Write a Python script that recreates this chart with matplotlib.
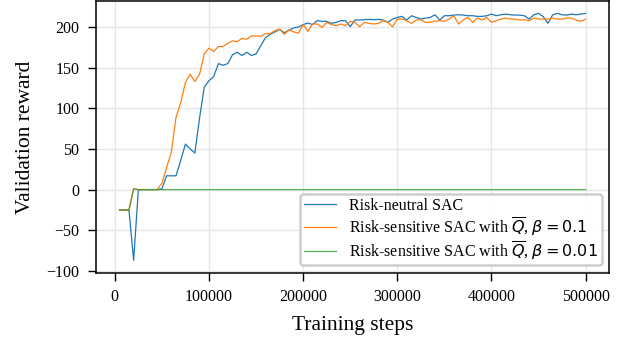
import numpy as np
import matplotlib
matplotlib.use("Agg")
import matplotlib.pyplot as plt

plt.rcParams['font.family'] = ['Liberation Serif', 'DejaVu Serif']

steps = np.arange(5000, 500001, 5000)

neutral = [
    -25, -25, -25, -87, 0, 0, 0, 0, 0, 1,
    17, 17, 17, 36, 56, 50, 45, 88, 126, 134,
    139, 155, 153, 155, 166, 169, 165, 169, 165, 167,
    177, 187, 191, 194, 197, 193, 196, 199, 200, 203,
    205, 203, 208, 207, 207, 204.5, 205.7, 207.8, 207.8, 200.4,
    208.6, 208.6, 209, 209.4, 209, 209.4, 208.6, 205.7, 209.8, 211.8,
    213.1, 208.6, 213.9, 211.8, 209.8, 211, 211.8, 215.1, 208.6, 213.9,
    213.9, 214.7, 215.1, 214.7, 213.9, 213.9, 213.1, 213.1, 213.9, 215.9,
    213.9, 215.1, 215.9, 215.1, 214.7, 214.7, 213.9, 209.8, 215.1, 216.8,
    212.7, 204.5, 215.1, 216.8, 215.1, 214.7, 215.9, 215.1, 215.9, 216.8,
]

sensitive_01 = [
    -25, -25, -25, 1, 0, 0, 0, 0, 0, 8,
    27, 46, 89, 107, 132, 142, 133, 142, 167, 174,
    170, 176, 176, 180, 183, 182, 186, 185, 189, 189,
    188.5, 192, 192, 195.5, 197.5, 191, 196.6, 194, 192.5, 203,
    194.6, 203.8, 203.8, 199.5, 205.7, 203, 201.6, 203.7, 201.6, 207,
    205.7, 200.4, 205.7, 204.5, 203.7, 204.5, 207.8, 205.7, 200.4, 209.8,
    209.8, 207.8, 204.5, 208.6, 209, 205.7, 205.7, 207, 207.8, 207,
    209.8, 213.9, 203.7, 208.6, 211.8, 205.7, 211, 208.6, 211.8, 205.7,
    207.8, 209.8, 211, 209.8, 209.8, 208.6, 209, 207.8, 211, 209.8,
    209.8, 209.8, 211, 209.8, 209.8, 211, 211, 208.6, 207, 209.8,
]

sensitive_001 = [-25, -25, -25, 1] + [0] * 96

labels = [
    'Risk-neutral SAC',
    r'Risk-sensitive SAC with $\overline{Q}$, $\beta = 0.1$',
    r'Risk-sensitive SAC with $\overline{Q}$, $\beta = 0.01$',
]

fig, ax = plt.subplots(figsize=(6.33, 3.43), dpi=100)
ax.plot(steps, neutral, color='#1f77b4', lw=0.9, label=labels[0])
ax.plot(steps, sensitive_01, color='#ff7f0e', lw=0.9, label=labels[1])
ax.plot(steps, sensitive_001, color='#2ca02c', lw=0.9, alpha=0.8, label=labels[2])

ax.grid(True, color='#e6e6e6', lw=1)
ax.set_axisbelow(True)
for s in ax.spines.values():
    s.set_linewidth(1.1)
ax.tick_params(direction='out', length=6, width=1, pad=6, labelsize=11.5)
ax.set_xticks([0, 100000, 200000, 300000, 400000, 500000])
ax.set_yticks([-100, -50, 0, 50, 100, 150, 200])
ax.set_xlabel('Training steps', fontsize=15.5, labelpad=8)
ax.set_ylabel('Validation reward', fontsize=15.5, labelpad=8)

leg = ax.legend(loc='lower right', fontsize=11.5, framealpha=0.95,
                edgecolor='#cccccc', fancybox=True,
                borderaxespad=0.45, labelspacing=0.05, borderpad=0.25)
leg.get_frame().set_linewidth(1.8)

fig.subplots_adjust(left=0.152, right=0.962, top=0.997, bottom=0.205)
fig.savefig('out.png', dpi=100)
